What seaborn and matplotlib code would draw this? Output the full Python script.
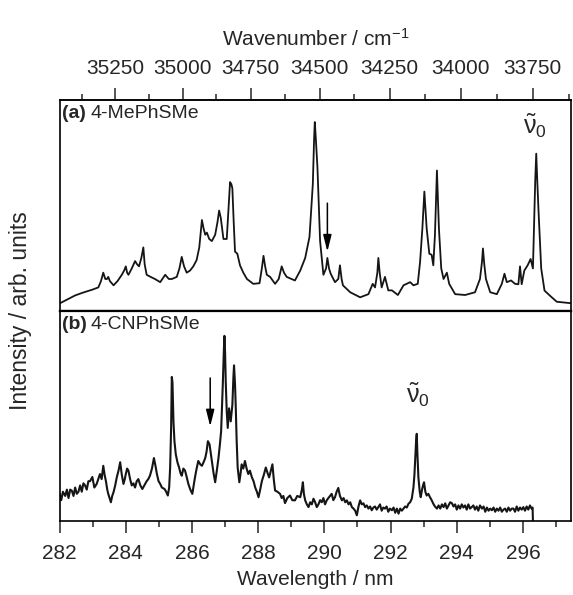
import numpy as np
import pandas as pd
import matplotlib
matplotlib.use("Agg")
import matplotlib.pyplot as plt
import seaborn as sns
from matplotlib.ticker import MultipleLocator, FixedLocator

# (a) 4-MePhSMe, wavelength in nm and intensity (arb.)
wl_a = [282.00, 282.20, 282.47, 282.70, 283.00, 283.17, 283.25, 283.32, 283.38, 283.43, 283.47, 283.52,
        283.63, 283.75, 283.88, 283.95, 284.00, 284.04, 284.08, 284.18, 284.28, 284.34, 284.40, 284.47,
        284.53, 284.57, 284.63, 284.75, 284.88, 285.04, 285.19, 285.30, 285.39, 285.54, 285.62, 285.69,
        285.76, 285.84, 285.94, 286.04, 286.14, 286.22, 286.30, 286.35, 286.40, 286.45, 286.52, 286.60,
        286.70, 286.77, 286.82, 286.87, 286.95, 287.05, 287.11, 287.15, 287.19, 287.22, 287.26, 287.30,
        287.37, 287.45, 287.55, 287.66, 287.85, 288.04, 288.11, 288.16, 288.21, 288.26, 288.36, 288.51,
        288.62, 288.71, 288.78, 288.86, 289.11, 289.27, 289.42, 289.55, 289.65, 289.69, 289.71, 289.74,
        289.79, 289.87, 289.97, 290.05, 290.09, 290.14, 290.19, 290.32, 290.42, 290.47, 290.52, 290.56,
        290.78, 291.08, 291.33, 291.46, 291.53, 291.60, 291.63, 291.67, 291.73, 291.83, 291.93, 292.04,
        292.22, 292.39, 292.59, 292.69, 292.82, 292.89, 292.96, 293.02, 293.09, 293.17, 293.24, 293.29,
        293.34, 293.40, 293.46, 293.53, 293.60, 293.70, 293.77, 293.95, 294.25, 294.55, 294.70, 294.76,
        294.79, 294.83, 294.88, 295.01, 295.21, 295.36, 295.44, 295.51, 295.64, 295.76, 295.86, 295.91,
        295.96, 296.04, 296.14, 296.23, 296.30, 296.34, 296.37, 296.40, 296.43, 296.47, 296.55, 296.65,
        296.82, 297.02, 297.45]
int_a = [0.034, 0.05, 0.072, 0.085, 0.10, 0.11, 0.14, 0.18, 0.15, 0.15, 0.16, 0.14,
         0.12, 0.14, 0.17, 0.19, 0.21, 0.18, 0.17, 0.20, 0.235, 0.22, 0.21, 0.25,
         0.30, 0.22, 0.17, 0.16, 0.15, 0.135, 0.17, 0.15, 0.15, 0.16, 0.20, 0.255,
         0.21, 0.18, 0.19, 0.21, 0.24, 0.30, 0.43, 0.39, 0.36, 0.37, 0.34, 0.33,
         0.36, 0.42, 0.475, 0.44, 0.34, 0.34, 0.50, 0.61, 0.60, 0.58, 0.42, 0.28,
         0.27, 0.215, 0.18, 0.15, 0.127, 0.13, 0.20, 0.26, 0.21, 0.17, 0.16, 0.127,
         0.15, 0.21, 0.18, 0.16, 0.143, 0.19, 0.25, 0.35, 0.60, 0.82, 0.895, 0.82,
         0.68, 0.33, 0.17, 0.20, 0.25, 0.20, 0.175, 0.135, 0.15, 0.215, 0.15, 0.12,
         0.087, 0.063, 0.078, 0.127, 0.11, 0.18, 0.25, 0.18, 0.11, 0.16, 0.096, 0.096,
         0.074, 0.12, 0.135, 0.12, 0.127, 0.23, 0.39, 0.565, 0.39, 0.27, 0.265, 0.215,
         0.36, 0.665, 0.39, 0.20, 0.15, 0.18, 0.127, 0.078, 0.074, 0.087, 0.15, 0.23,
         0.295, 0.22, 0.15, 0.087, 0.078, 0.127, 0.175, 0.135, 0.143, 0.127, 0.125, 0.21,
         0.125, 0.19, 0.215, 0.245, 0.20, 0.44, 0.62, 0.745, 0.62, 0.47, 0.20, 0.095,
         0.07, 0.042, 0.035]

# (b) 4-CNPhSMe
wl_b = [282.00, 282.05, 282.10, 282.17, 282.22, 282.27, 282.32, 282.37, 282.42, 282.47, 282.52, 282.57,
        282.62, 282.67, 282.72, 282.77, 282.82, 282.87, 282.92, 282.99, 283.05, 283.12, 283.17, 283.22,
        283.27, 283.32, 283.36, 283.40, 283.44, 283.47, 283.51, 283.55, 283.59, 283.63, 283.68, 283.73,
        283.78, 283.83, 283.88, 283.93, 283.97, 284.00, 284.04, 284.08, 284.13, 284.18, 284.23, 284.28,
        284.33, 284.38, 284.44, 284.50, 284.56, 284.63, 284.68, 284.73, 284.79, 284.85, 284.90, 284.94,
        284.99, 285.04, 285.09, 285.17, 285.22, 285.27, 285.31, 285.34, 285.37, 285.39, 285.41, 285.44,
        285.47, 285.51, 285.56, 285.61, 285.65, 285.69, 285.74, 285.79, 285.84, 285.89, 285.95, 286.01,
        286.05, 286.09, 286.14, 286.19, 286.25, 286.30, 286.35, 286.40, 286.44, 286.48, 286.53, 286.56,
        286.60, 286.65, 286.70, 286.75, 286.80, 286.84, 286.88, 286.93, 286.96, 286.98, 287.00, 287.02,
        287.05, 287.08, 287.12, 287.15, 287.17, 287.20, 287.22, 287.25, 287.27, 287.30, 287.32, 287.35,
        287.38, 287.43, 287.47, 287.50, 287.55, 287.60, 287.65, 287.70, 287.75, 287.81, 287.86, 287.91,
        287.96, 288.01, 288.06, 288.11, 288.17, 288.23, 288.28, 288.33, 288.38, 288.43, 288.47, 288.51,
        288.58, 288.66, 288.71, 288.76, 288.81, 288.88, 288.96, 289.03, 289.11, 289.18, 289.27, 289.32,
        289.35, 289.38, 289.42, 289.47, 289.52, 289.57, 289.62, 289.67, 289.72, 289.77, 289.82, 289.87,
        289.92, 289.97, 290.02, 290.07, 290.12, 290.17, 290.22, 290.27, 290.32, 290.37, 290.42, 290.47,
        290.53, 290.58, 290.63, 290.68, 290.73, 290.78, 290.83, 290.88, 290.93, 290.98, 291.03, 291.08,
        291.13, 291.18, 291.23, 291.28, 291.33, 291.38, 291.43, 291.48, 291.53, 291.58, 291.63, 291.68,
        291.73, 291.78, 291.83, 291.88, 291.93, 291.98, 292.04, 292.09, 292.14, 292.19, 292.24, 292.29,
        292.34, 292.39, 292.44, 292.49, 292.54, 292.59, 292.64, 292.69, 292.72, 292.74, 292.77, 292.79,
        292.81, 292.84, 292.88, 292.91, 292.95, 292.98, 293.01, 293.05, 293.09, 293.14, 293.19, 293.24,
        293.29, 293.34, 293.40, 293.45, 293.50, 293.55, 293.60, 293.65, 293.70, 293.75, 293.80, 293.85,
        293.90, 293.95, 294.00, 294.05, 294.10, 294.15, 294.20, 294.25, 294.30, 294.35, 294.40, 294.45,
        294.50, 294.55, 294.60, 294.65, 294.70, 294.76, 294.81, 294.86, 294.91, 294.96, 295.01, 295.06,
        295.11, 295.16, 295.21, 295.26, 295.31, 295.36, 295.41, 295.46, 295.51, 295.56, 295.61, 295.66,
        295.71, 295.76, 295.81, 295.86, 295.91, 295.96, 296.01, 296.06, 296.11, 296.16, 296.21, 296.26,
        296.29, 296.30]
int_b = [0.13, 0.10, 0.14, 0.12, 0.15, 0.11, 0.15, 0.145, 0.12, 0.16, 0.13, 0.14,
         0.17, 0.14, 0.18, 0.17, 0.15, 0.19, 0.19, 0.21, 0.16, 0.177, 0.20, 0.224,
         0.20, 0.263, 0.22, 0.19, 0.15, 0.13, 0.11, 0.09, 0.12, 0.138, 0.17, 0.21,
         0.24, 0.28, 0.22, 0.177, 0.20, 0.224, 0.25, 0.24, 0.20, 0.17, 0.18, 0.16,
         0.19, 0.20, 0.17, 0.153, 0.17, 0.19, 0.20, 0.216, 0.25, 0.30, 0.26, 0.224,
         0.19, 0.177, 0.16, 0.153, 0.14, 0.122, 0.16, 0.255, 0.45, 0.685, 0.66, 0.474,
         0.38, 0.318, 0.28, 0.255, 0.23, 0.216, 0.25, 0.24, 0.21, 0.177, 0.15, 0.13,
         0.17, 0.208, 0.25, 0.286, 0.27, 0.263, 0.28, 0.30, 0.33, 0.38, 0.365, 0.33,
         0.286, 0.23, 0.185, 0.24, 0.30, 0.36, 0.427, 0.647, 0.80, 0.88, 0.80, 0.66,
         0.52, 0.443, 0.536, 0.50, 0.474, 0.52, 0.553, 0.68, 0.74, 0.65, 0.553, 0.38,
         0.255, 0.185, 0.23, 0.27, 0.25, 0.286, 0.25, 0.224, 0.24, 0.208, 0.19, 0.16,
         0.14, 0.114, 0.15, 0.19, 0.22, 0.255, 0.23, 0.208, 0.24, 0.27, 0.20, 0.146,
         0.14, 0.13, 0.11, 0.12, 0.086, 0.11, 0.122, 0.10, 0.099, 0.12, 0.114, 0.15,
         0.185, 0.13, 0.099, 0.08, 0.067, 0.09, 0.08, 0.107, 0.09, 0.067, 0.08, 0.10,
         0.09, 0.11, 0.08, 0.099, 0.11, 0.12, 0.13, 0.10, 0.114, 0.14, 0.158, 0.12,
         0.099, 0.11, 0.09, 0.099, 0.08, 0.09, 0.067, 0.06, 0.05, 0.028, 0.07, 0.099,
         0.08, 0.085, 0.067, 0.075, 0.06, 0.07, 0.052, 0.065, 0.07, 0.055, 0.067, 0.08,
         0.05, 0.065, 0.06, 0.07, 0.045, 0.06, 0.052, 0.065, 0.04, 0.06, 0.036, 0.06,
         0.05, 0.06, 0.07, 0.065, 0.083, 0.09, 0.107, 0.16, 0.22, 0.286, 0.38, 0.415,
         0.32, 0.208, 0.14, 0.114, 0.15, 0.17, 0.185, 0.14, 0.122, 0.13, 0.114, 0.10,
         0.083, 0.07, 0.06, 0.075, 0.06, 0.08, 0.067, 0.085, 0.06, 0.075, 0.09, 0.086,
         0.07, 0.08, 0.055, 0.075, 0.06, 0.08, 0.065, 0.075, 0.055, 0.08, 0.06, 0.067,
         0.075, 0.055, 0.07, 0.05, 0.075, 0.06, 0.07, 0.045, 0.065, 0.05, 0.06, 0.052,
         0.065, 0.045, 0.06, 0.05, 0.065, 0.045, 0.055, 0.06, 0.045, 0.065, 0.05, 0.06,
         0.06, 0.045, 0.07, 0.05, 0.065, 0.055, 0.067, 0.05, 0.07, 0.055, 0.075, 0.06,
         0.065, 0.0]

panel_names = ["4-MePhSMe", "4-CNPhSMe"]
panel_tags = ["(a)", "(b)"]
nu0_pos = [(296.35, 0.875), (292.82, 0.60)]     # where the origin label sits
arrow_wl = [290.09, 286.55]
arrow_top = [0.51, 0.68]
arrow_tip = [0.28, 0.45]
wavenumber_ticks = [35250, 35000, 34750, 34500, 34250, 34000, 33750]

sns.set_style("ticks")
plt.rcParams['font.family'] = ['Liberation Sans', 'DejaVu Sans']
plt.rcParams['mathtext.fontset'] = 'custom'
plt.rcParams['mathtext.rm'] = 'Liberation Sans'
plt.rcParams['mathtext.it'] = 'Liberation Sans'

fig, axes = plt.subplots(2, 1, figsize=(5.73, 5.95), dpi=100, sharex=True)
fig.subplots_adjust(left=0.104, right=0.9965, top=0.832, bottom=0.124, hspace=0)

data = [pd.DataFrame({"wl": wl_a, "I": int_a}), pd.DataFrame({"wl": wl_b, "I": int_b})]
line_w = [1.3, 1.5]

for i, ax in enumerate(axes):
    sns.lineplot(data=data[i], x="wl", y="I", ax=ax, color="#151515", lw=line_w[i],
                 estimator=None, sort=False)
    ax.set_ylim(0, 1)
    ax.set_yticks([])
    ax.set_ylabel("")
    for s in ax.spines.values():
        s.set_color("black")
        s.set_linewidth(1.2)
    ax.text(0.004, 0.975, panel_tags[i], transform=ax.transAxes, fontsize=14,
            fontweight="bold", va="top", ha="left")
    ax.text(0.060, 0.975, panel_names[i], transform=ax.transAxes, fontsize=14,
            va="top", ha="left")
    ax.text(nu0_pos[i][0], nu0_pos[i][1], r"$\tilde{\nu}_0$", fontsize=18,
            ha="center", va="center")
    ax.annotate("", xy=(arrow_wl[i], arrow_tip[i]), xytext=(arrow_wl[i], arrow_top[i]),
                arrowprops=dict(arrowstyle="-|>,head_length=1.0,head_width=0.25",
                                color="black", lw=1.1, shrinkA=0, shrinkB=0))

axes[0].spines["bottom"].set_linewidth(1.6)
axes[1].spines["top"].set_linewidth(1.6)

axes[0].tick_params(axis="x", which="both", bottom=False, labelbottom=False)
axes[1].set_xlim(282, 297.45)
axes[1].xaxis.set_major_locator(MultipleLocator(2))
axes[1].xaxis.set_minor_locator(MultipleLocator(1))
axes[1].tick_params(axis="x", which="major", length=8.5, width=1.1, labelsize=15,
                    direction="out", pad=8)
axes[1].tick_params(axis="x", which="minor", length=4.5, width=1.1, direction="out")
axes[1].set_xlabel("Wavelength / nm", fontsize=15, labelpad=5)

top = axes[0].secondary_xaxis("top", functions=(lambda x: 1e7 / x, lambda x: 1e7 / x))
top.xaxis.set_major_locator(FixedLocator(wavenumber_ticks))
top.xaxis.set_minor_locator(FixedLocator([w + 125 for w in wavenumber_ticks] + [33625]))
top.tick_params(axis="x", which="major", length=8.5, width=1.1, labelsize=15,
                direction="out", pad=7)
top.tick_params(axis="x", which="minor", length=4.5, width=1.1, direction="out")
for s in top.spines.values():
    s.set_linewidth(1.2)
top.set_xlabel("Wavenumber / cm$^{-1}$", fontsize=15, labelpad=10)

fig.text(0.035, 0.478, "Intensity / arb. units", rotation=90, fontsize=16.5,
         ha="center", va="center")

fig.savefig("out.png", dpi=100)
